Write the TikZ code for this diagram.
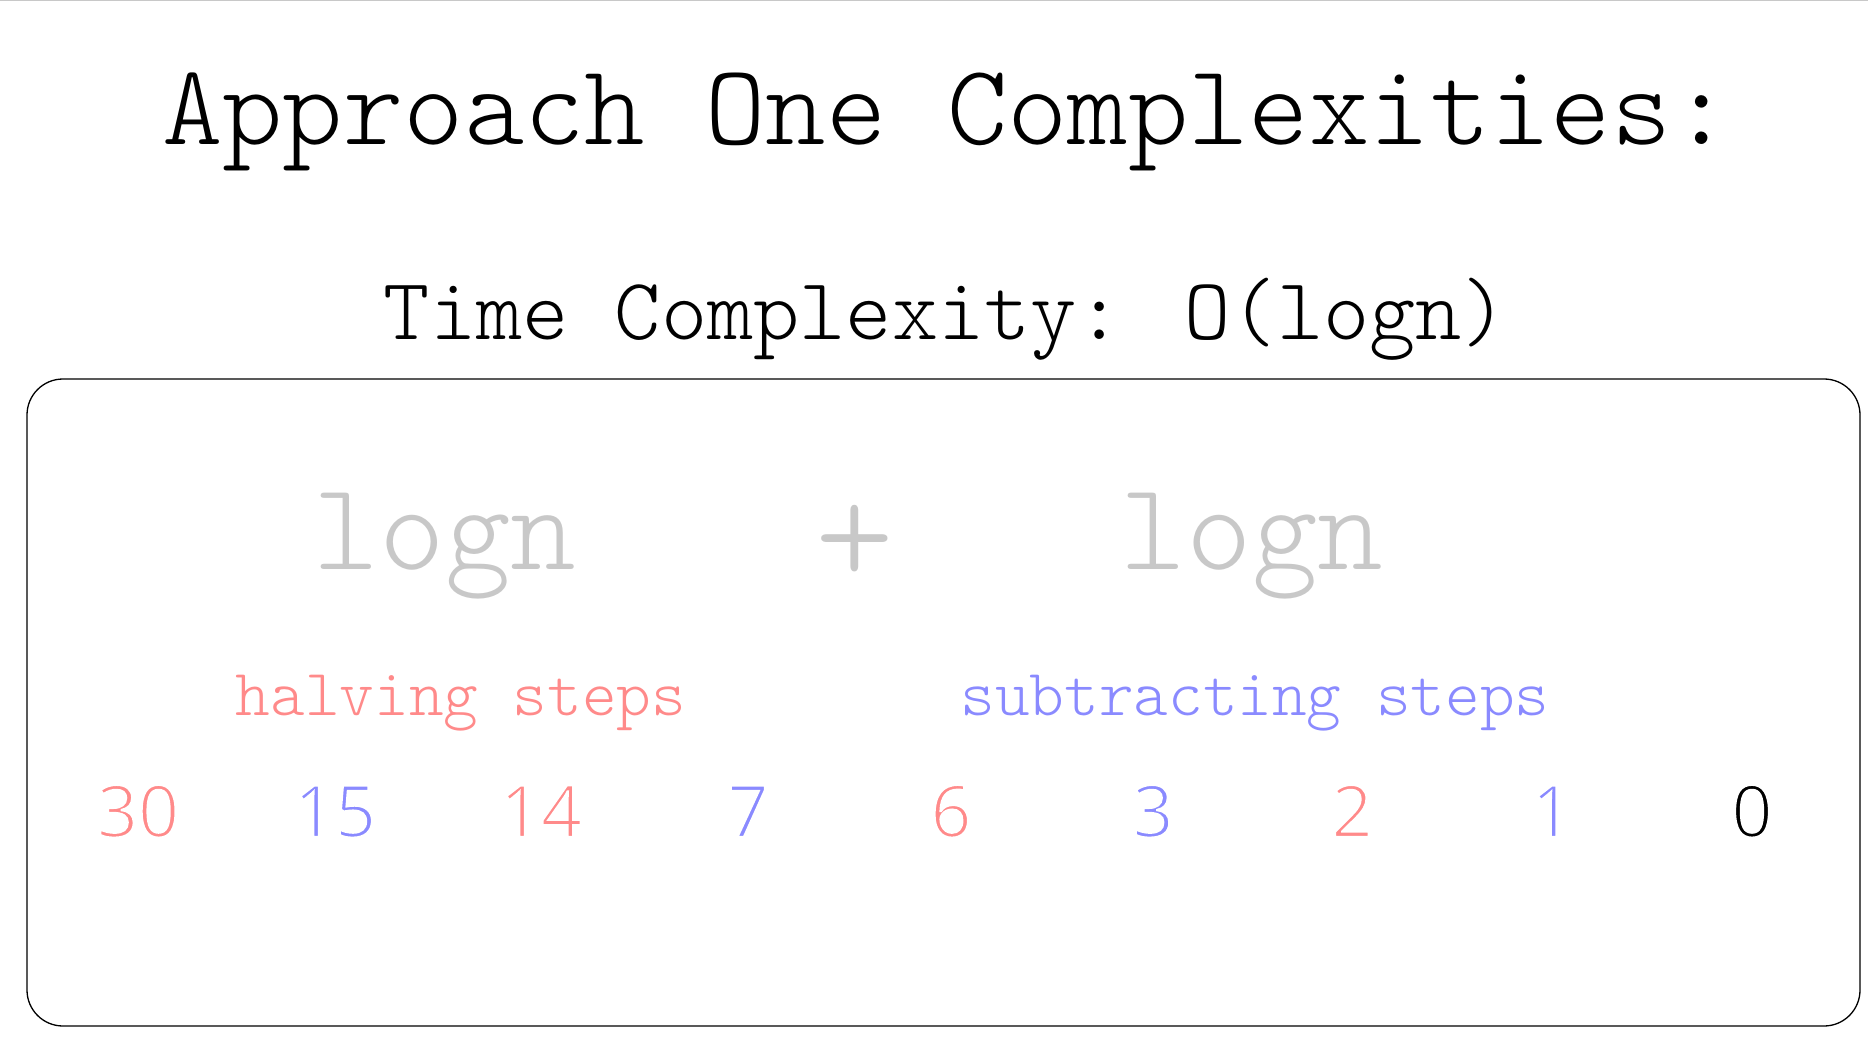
\documentclass[tikz,border=0pt]{standalone}
\usepackage{fontspec}
\newfontfamily\numfont{Open Sans}
\definecolor{redtxt}{HTML}{FF8A8A}
\definecolor{bluetxt}{HTML}{8A8AFF}
\definecolor{graytxt}{HTML}{C8C8C8}
\newcommand{\thinnum}[1]{\special{pdf:literal 1 G 2 Tr 2.2 w}#1\special{pdf:literal 0 Tr}}
\begin{document}
\begin{tikzpicture}[x=1pt,y=-1pt,
  txt/.style={inner sep=0pt,anchor=base},
  title/.style={txt,font=\ttfamily\fontseries{l}\fontsize{115}{120}\selectfont},
  sub/.style={txt,font=\ttfamily\fontseries{l}\fontsize{88}{96}\selectfont},
  bigg/.style={txt,text=graytxt,font=\ttfamily\fontseries{l}\fontsize{125}{130}\selectfont},
  plus/.style={txt,text=graytxt,font=\ttfamily\fontseries{l}\fontsize{150}{160}\selectfont},
  lbl/.style={txt,font=\ttfamily\fontseries{l}\fontsize{66}{70}\selectfont},
  num/.style={txt,font=\numfont\fontsize{72}{80}\selectfont},
  frame/.style={draw=black,line width=1.3pt,rounded corners=36pt}]
\useasboundingbox (0,0) rectangle (1868,1040);
\fill[white] (0,0) rectangle (1868,1040);
\draw[graytxt,line width=1pt] (0,0.5) -- (1868,0.5);
\node[title] (t1) at (947,145) {Approach One Complexities:};
\node[sub] (t2) at (946,340) {Time Complexity: O(logn)};
\draw[frame] (27,379) rectangle (1860,1026);
\node[bigg] (l1) at (445,569) {logn};
\node[plus] (pl) at (855,584) {+};
\node[bigg] (l2) at (1252,569) {logn};
\node[lbl,text=redtxt] (h) at (461,715) {halving steps};
\node[lbl,text=bluetxt] (s) at (1255,715) {subtracting steps};
\node[num,text=redtxt] (n30) at (138,837) {\thinnum{30}};
\node[num,text=bluetxt] (n15) at (335,837) {\thinnum{15}};
\node[num,text=redtxt] (n14) at (541,837) {\thinnum{14}};
\node[num,text=bluetxt] (n7) at (748,837) {\thinnum{7}};
\node[num,text=redtxt] (n6) at (951,837) {\thinnum{6}};
\node[num,text=bluetxt] (n3) at (1153,837) {\thinnum{3}};
\node[num,text=redtxt] (n2) at (1352,837) {\thinnum{2}};
\node[num,text=bluetxt] (n1) at (1552,837) {\thinnum{1}};
\node[num,text=black] (n0) at (1752,837) {\thinnum{0}};
\end{tikzpicture}
\end{document}
